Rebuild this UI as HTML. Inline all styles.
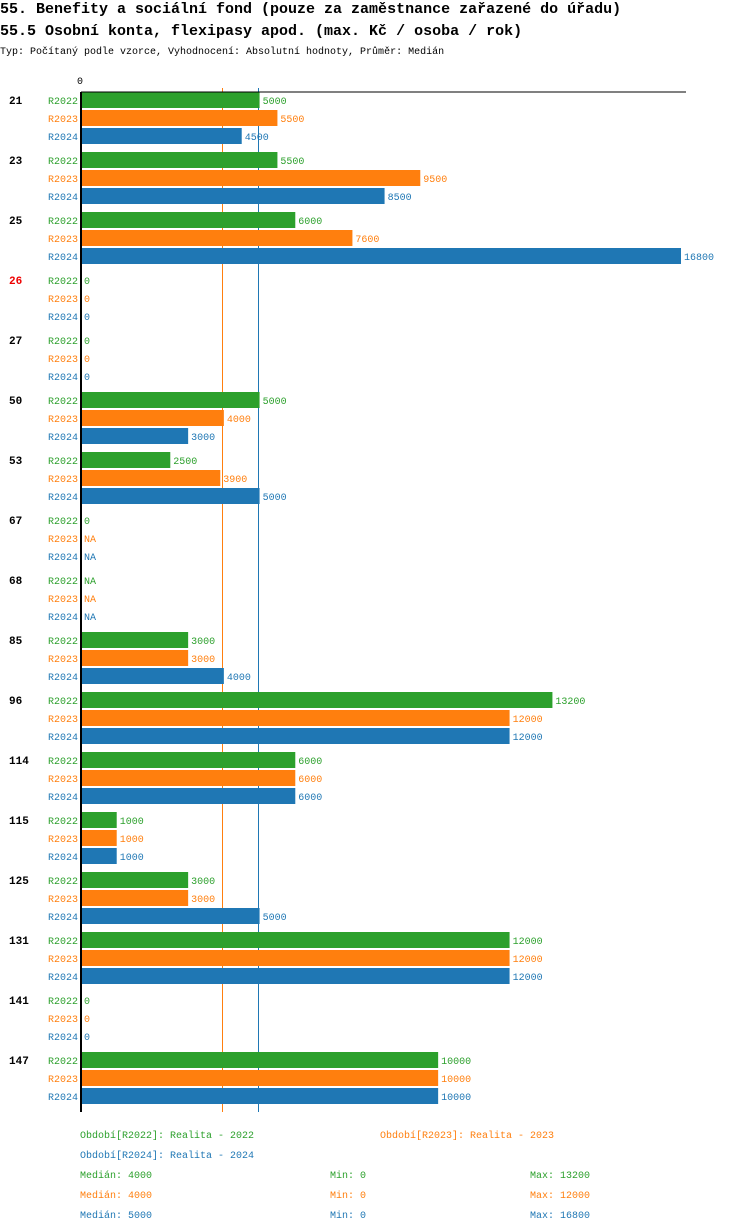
<!DOCTYPE html>
<html><head><meta charset="utf-8">
<style>
body{margin:0;background:#fff;width:750px;height:1232px;overflow:hidden}
svg{display:block}
text{font-family:"Liberation Mono","DejaVu Sans Mono",monospace}
</style></head><body>
<svg id="c" width="750" height="1232">
<text x="0" y="13" font-size="15" font-weight="bold">55. Benefity a sociální fond (pouze za zaměstnance zařazené do úřadu)</text>
<text x="0" y="35" font-size="15" font-weight="bold">55.5 Osobní konta, flexipasy apod. (max. Kč / osoba / rok)</text>
<text x="0" y="54" font-size="10">Typ: Počítaný podle vzorce, Vyhodnocení: Absolutní hodnoty, Průměr: Medián</text>
<text x="77" y="84" font-size="10">0</text>
</svg>
<script>
const categories=["21","23","25","26","27","50","53","67","68","85","96","114","115","125","131","141","147"];
const seriesNames=["R2022","R2023","R2024"];
const r2022=[5000,5500,6000,0,0,5000,2500,0,null,3000,13200,6000,1000,3000,12000,0,10000];
const r2023=[5500,9500,7600,0,0,4000,3900,null,null,3000,12000,6000,1000,3000,12000,0,10000];
const r2024=[4500,8500,16800,0,0,3000,5000,null,null,4000,12000,6000,1000,5000,12000,0,10000];
const medians=[4000,4000,5000];
const mins=[0,0,0];
const maxs=[13200,12000,16800];
const highlighted=["26"];
const colors=["#2ca02c","#ff7f0e","#1f77b4"];
const svgEl=document.getElementById('c');
const NS="http://www.w3.org/2000/svg";
const x0=81,xMax=16800,xW=600;
const xs=v=>x0+v/xMax*xW;
const yc=(g,s)=>100+g*60+s*18;
function mk(t,a,txt){const e=document.createElementNS(NS,t);for(const k in a)e.setAttribute(k,a[k]);if(txt!==undefined)e.textContent=txt;svgEl.appendChild(e);return e;}
const allSeries=[r2022,r2023,r2024];
const axTop=92,axBot=yc(categories.length-1,2)+16;
[1,2].forEach(i=>{
  const l=mk('line',{x1:Math.round(xs(medians[i]))-1.5,x2:Math.round(xs(medians[i]))-1.5,y1:88,y2:axBot,stroke:colors[i],'stroke-width':1});
  
  
});
categories.forEach((c,g)=>{
  const gl=mk('text',{x:9,y:yc(g,0)+4,'font-size':11,'font-weight':'bold',fill:highlighted.includes(c)?'#e00':'#000'},c);
  
  
  allSeries.forEach((arr,s)=>{
    const y=yc(g,s);
    const sl=mk('text',{x:78,y:y+4,'font-size':10,fill:colors[s],'text-anchor':'end'},seriesNames[s]);
    
    
    const v=arr[g];
    if(v!==null&&v>0){
      const b=mk('rect',{x:x0,y:y-8,width:xs(v)-x0,height:16,fill:colors[s]});
      
      
    }
    const vx=(v===null?x0:xs(v))+3;
    const vl=mk('text',{x:vx,y:y+4,'font-size':10,fill:colors[s]},v===null?'NA':String(v));
    
    
  });
});
const ax=mk('line',{x1:x0,x2:686,y1:axTop,y2:axTop,stroke:'#000','stroke-width':1});


const ay=mk('line',{x1:x0,x2:x0,y1:axTop,y2:axBot,stroke:'#000','stroke-width':2});


const legs=[[80,1138,0,'Období[R2022]: Realita - 2022'],[380,1138,1,'Období[R2023]: Realita - 2023'],[80,1158,2,'Období[R2024]: Realita - 2024']];
legs.forEach(l=>{
  const t=mk('text',{x:l[0],y:l[1],'font-size':10,fill:colors[l[2]]},l[3]);
  
  
});
[0,1,2].forEach(i=>{
  const y=1178+i*20;
  const a=mk('text',{x:80,y:y,'font-size':10,fill:colors[i]},'Medián: '+medians[i]);
  
  
  const b=mk('text',{x:330,y:y,'font-size':10,fill:colors[i]},'Min: '+mins[i]);
  
  
  const d=mk('text',{x:530,y:y,'font-size':10,fill:colors[i]},'Max: '+maxs[i]);
  
  
});
</script>
</body></html>
